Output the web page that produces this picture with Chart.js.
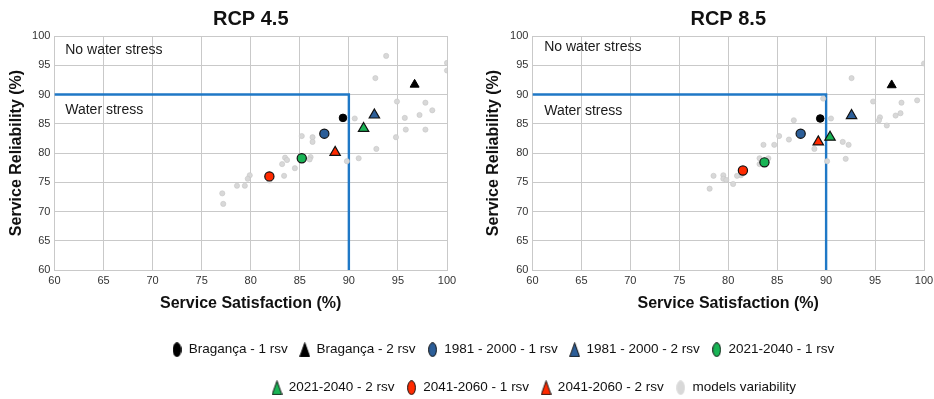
<!DOCTYPE html>
<html><head><meta charset="utf-8">
<script src="https://cdn.jsdelivr.net/npm/chart.js@4.4.1/dist/chart.umd.min.js"></script>
<style>
html,body{margin:0;padding:0;background:#fff;width:934px;height:399px;overflow:hidden;position:relative;}
.box{position:absolute;}
</style></head><body>
<div class="box" style="left:0;top:0;width:467px;height:321px"><canvas id="c45"></canvas></div>
<div class="box" style="left:478px;top:0;width:456px;height:321px"><canvas id="c85"></canvas></div>
<div class="box" style="left:0;top:331px;width:934px;height:80px"><canvas id="leg1"></canvas></div>
<div class="box" style="left:0;top:369px;width:934px;height:80px"><canvas id="leg2"></canvas></div>
<script>
// ---------- DATA ----------
const seriesLabels = ['Bragança - 1 rsv', 'Bragança - 2 rsv', '1981 - 2000 - 1 rsv', '1981 - 2000 - 2 rsv',
  '2021-2040 - 1 rsv', '2021-2040 - 2 rsv', '2041-2060 - 1 rsv', '2041-2060 - 2 rsv'];
const modelsLabel = 'models variability';

const rcp45Satisfaction = [89.4, 96.7, 87.5, 92.6, 85.2, 91.5, 81.9, 88.6];
const rcp45Reliability  = [86.0, 91.7, 83.3, 86.5, 79.1, 84.2, 76.0, 80.1];
const rcp85Satisfaction = [89.4, 96.7, 87.4, 92.6, 83.7, 90.4, 81.5, 89.2];
const rcp85Reliability  = [85.9, 91.6, 83.3, 86.4, 78.4, 82.7, 77.0, 81.9];

const rcp45ModelsSatisfaction = [93.8, 100, 100, 92.7, 94.9, 97.8, 98.5, 97.2, 95.7, 90.6, 95.8, 97.8, 94.8,
  85.2, 86.3, 86.3, 92.8, 86.1, 86.0, 91.0, 89.8, 83.5, 83.7, 83.2, 84.5, 83.4, 79.9, 79.7, 79.4, 78.6, 81.9, 77.1, 77.2];
const rcp45ModelsReliability = [96.6, 95.4, 94.1, 92.8, 88.8, 88.6, 87.3, 86.5, 86.0, 85.9, 84.0, 84.0, 82.7,
  82.9, 82.7, 81.9, 80.7, 79.3, 78.9, 79.1, 78.6, 79.2, 78.8, 78.1, 77.4, 76.1, 76.2, 75.6, 74.4, 74.4, 75.3, 73.1, 71.3];

const rcp85ModelsSatisfaction = [100, 92.6, 89.7, 94.8, 97.7, 99.3, 97.6, 97.1, 95.5, 95.4, 96.2, 90.5, 86.7,
  85.2, 86.2, 84.7, 83.6, 91.7, 92.3, 88.8, 92.0, 90.1, 83.2, 84.1, 83.2, 81.3, 80.9, 79.5, 78.5, 79.5, 79.8, 80.5, 78.1];
const rcp85ModelsReliability = [95.3, 92.8, 89.3, 88.8, 88.6, 89.0, 86.8, 86.4, 86.1, 85.6, 84.7, 85.9, 85.6,
  82.9, 82.3, 81.4, 81.4, 81.9, 81.4, 80.7, 79.0, 78.6, 79.1, 79.1, 78.1, 76.2, 76.1, 76.2, 76.1, 75.6, 75.4, 74.7, 73.9];

const thresholdSatisfaction = [60, 90, 90];
const thresholdReliability  = [90, 90, 60];
const tickValues = [60, 65, 70, 75, 80, 85, 90, 95, 100];
const zoneLabels = ['No water stress', 'Water stress'];

// ---------- STYLES ----------
const FONT = "'Liberation Sans', Arial, Helvetica, sans-serif";
const seriesStyles = [
  {shape: 'circle',   fill: '#000000', border: '#000000', r: 3.8, bw: 1},
  {shape: 'triangle', fill: '#000000', border: '#000000', r: 5.2, bw: 1},
  {shape: 'circle',   fill: '#2c5e98', border: '#111111', r: 4.6, bw: 1.2},
  {shape: 'triangle', fill: '#2c5e98', border: '#111111', r: 6.0, bw: 1.2},
  {shape: 'circle',   fill: '#19b455', border: '#111111', r: 4.6, bw: 1.2},
  {shape: 'triangle', fill: '#19b455', border: '#111111', r: 6.0, bw: 1.2},
  {shape: 'circle',   fill: '#ff2a00', border: '#111111', r: 4.6, bw: 1.2},
  {shape: 'triangle', fill: '#ff2a00', border: '#111111', r: 6.0, bw: 1.2}
];
const modelsStyle = {shape: 'circle', fill: '#d8d8d8', border: '#c6c6c6', r: 2.6, bw: 0.6};

const pts = (xs, ys) => xs.map((x, i) => ({x, y: ys[i]}));

const zonePlugin = {
  id: 'zoneText',
  afterDatasetsDraw(chart, args, opts) {
    const {ctx, scales: {x, y}} = chart;
    ctx.save();
    ctx.font = '14px ' + FONT;
    ctx.fillStyle = '#1a1a1a';
    ctx.textAlign = 'left';
    ctx.textBaseline = 'middle';
    (opts.items || []).forEach(it => {
      ctx.fillText(it.text, x.getPixelForValue(it.x), y.getPixelForValue(it.y));
    });
    ctx.restore();
  }
};

function makeChart(id, title, satX, relY, modX, modY, pad, zones) {
  const datasets = seriesLabels.map((lab, i) => ({
    type: 'scatter', label: lab, data: [{x: satX[i], y: relY[i]}],
    pointStyle: seriesStyles[i].shape, backgroundColor: seriesStyles[i].fill,
    borderColor: seriesStyles[i].border, borderWidth: seriesStyles[i].bw,
    pointRadius: seriesStyles[i].r, pointHoverRadius: seriesStyles[i].r, order: 0
  }));
  datasets.push({
    type: 'scatter', label: modelsLabel, data: pts(modX, modY),
    pointStyle: 'circle', backgroundColor: modelsStyle.fill, borderColor: modelsStyle.border,
    borderWidth: modelsStyle.bw, pointRadius: modelsStyle.r, order: 1
  });
  datasets.push({
    type: 'line', label: 'threshold', data: pts(thresholdSatisfaction, thresholdReliability),
    borderColor: '#1f78c6', borderWidth: 2.4, pointRadius: 0, fill: false, tension: 0,
    showLine: true, order: 2
  });
  const base = {
    type: 'linear', min: 60, max: 100,
    afterBuildTicks: s => { s.ticks = tickValues.map(v => ({value: v})); }
  };
  return new Chart(document.getElementById(id), {
    type: 'scatter',
    data: {datasets},
    options: {
      responsive: true, maintainAspectRatio: false, animation: false,
      layout: {padding: {left: pad.left, right: pad.right, top: 0, bottom: pad.bottom}},
      scales: {
        x: Object.assign({}, base, {
          ticks: {font: {family: FONT, size: 11}, color: '#333333', padding: 0},
          grid: {color: '#c9c9c9', lineWidth: 1, drawTicks: true, tickLength: 4, tickColor: 'rgba(0,0,0,0)'},
          border: {color: '#c9c9c9'},
          title: {display: true, text: 'Service Satisfaction (%)', color: '#111111',
            font: {family: FONT, size: 16, weight: 'bold'}, padding: {top: 7.2, bottom: 4}}
        }),
        y: Object.assign({}, base, {
          ticks: {font: {family: FONT, size: 11}, color: '#333333', padding: 4},
          grid: {color: '#c9c9c9', lineWidth: 1, drawTicks: false},
          border: {color: '#c9c9c9'},
          title: {display: true, text: 'Service Reliability (%)', color: '#111111',
            font: {family: FONT, size: 16, weight: 'bold'}, padding: {top: pad.yTitleTop, bottom: pad.yTitleBottom}}
        })
      },
      plugins: {
        legend: {display: false},
        tooltip: {enabled: false},
        title: {display: true, text: title, fullSize: false, color: '#111111',
          font: {family: FONT, size: 20, weight: 'bold'}, padding: {top: 7, bottom: 5}},
        zoneText: {items: zones}
      }
    },
    plugins: [zonePlugin]
  });
}

makeChart('c45', 'RCP 4.5', rcp45Satisfaction, rcp45Reliability, rcp45ModelsSatisfaction, rcp45ModelsReliability,
  {left: 2, right: 20, bottom: 3.4, yTitleTop: 5.4, yTitleBottom: 1.5},
  [{text: zoneLabels[0], x: 61.1, y: 97.5}, {text: zoneLabels[1], x: 61.1, y: 87.3}]);
makeChart('c85', 'RCP 8.5', rcp85Satisfaction, rcp85Reliability, rcp85ModelsSatisfaction, rcp85ModelsReliability,
  {left: 1, right: 10, bottom: 3.4, yTitleTop: 4.6, yTitleBottom: 3.3},
  [{text: zoneLabels[0], x: 61.2, y: 98.1}, {text: zoneLabels[1], x: 61.2, y: 87.2}]);

// ---------- LEGEND ----------
// small marker images for the legend (tall ellipse / tall triangle as in the reference)
function legendMarker(st) {
  const c = document.createElement('canvas');
  const w = st.shape === 'circle' ? 9 : 11, h = 15;
  c.width = w; c.height = h;
  const g = c.getContext('2d');
  g.fillStyle = st.fill; g.strokeStyle = st === modelsStyle ? '#dedede' : st.border; g.lineWidth = 1;
  g.beginPath();
  if (st.shape === 'circle') {
    g.ellipse(w / 2, h / 2, w / 2 - 0.6, h / 2 - 0.6, 0, 0, Math.PI * 2);
  } else {
    g.moveTo(w / 2, 0.6); g.lineTo(w - 0.6, h - 0.6); g.lineTo(0.6, h - 0.6); g.closePath();
  }
  g.fill(); g.stroke();
  return c;
}
const legendEntries = seriesLabels.map((lab, i) => ({label: lab, st: seriesStyles[i]}))
  .concat([{label: modelsLabel, st: modelsStyle}]);

function makeLegend(id, entries, padLeft) {
  new Chart(document.getElementById(id), {
    type: 'scatter',
    data: {datasets: entries.map(e => ({
      label: e.label, data: [], pointStyle: legendMarker(e.st), backgroundColor: e.st.fill,
      borderColor: e.st.border, borderWidth: 1
    }))},
    options: {
      responsive: true, maintainAspectRatio: false, animation: false,
      layout: {padding: {left: padLeft, top: 0}},
      scales: {x: {display: false}, y: {display: false}},
      plugins: {
        tooltip: {enabled: false},
        legend: {display: true, position: 'top', align: 'start',
          labels: {usePointStyle: true, pointStyleWidth: 10, boxHeight: 12, padding: 12,
            color: '#111111', font: {family: FONT, size: 13.5}}}
      }
    }
  });
}
makeLegend('leg1', legendEntries.slice(0, 5), 160);
makeLegend('leg2', legendEntries.slice(5), 260);
</script>
</body></html>
